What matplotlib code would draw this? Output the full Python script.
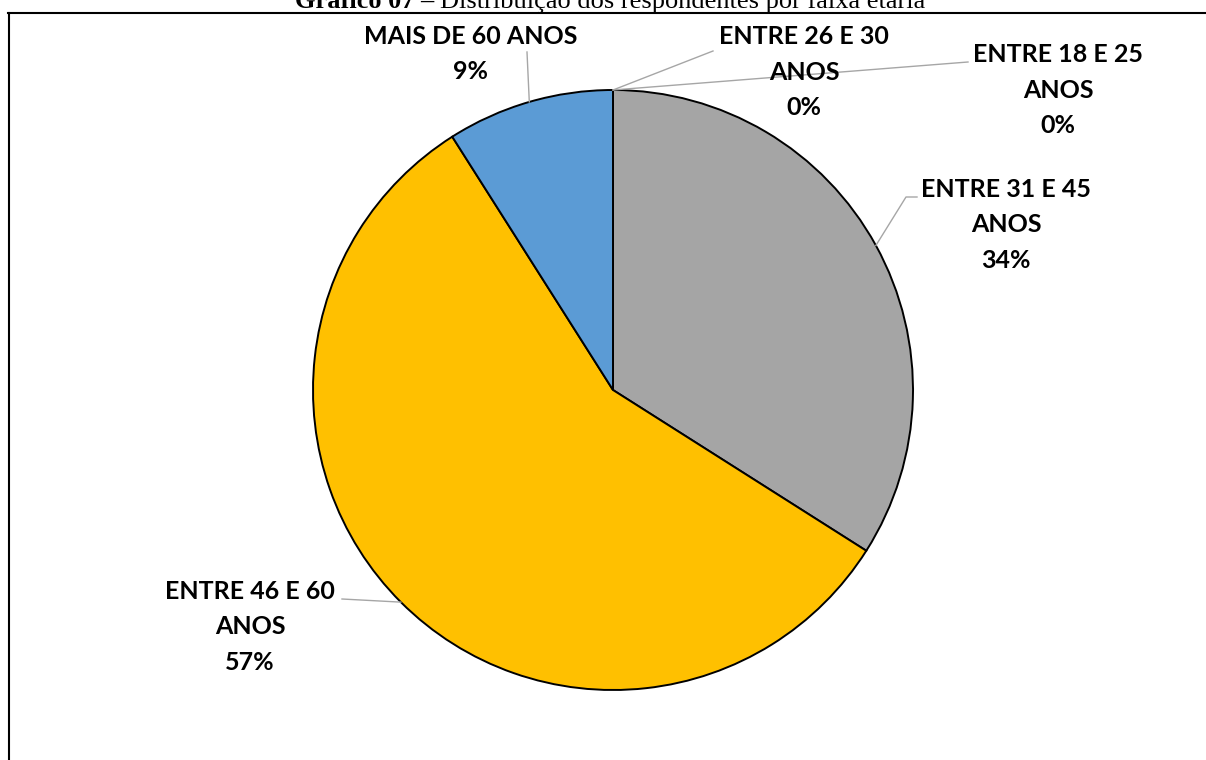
import matplotlib.pyplot as plt
from matplotlib.lines import Line2D
import numpy as np

# data
faixas = ['ENTRE 18 E 25\nANOS', 'ENTRE 26 E 30\nANOS', 'ENTRE 31 E 45\nANOS',
          'ENTRE 46 E 60\nANOS', 'MAIS DE 60 ANOS']
percentuais = [0, 0, 34, 57, 9]
cores = ['#4472C4', '#ED7D31', '#A5A5A5', '#FFC000', '#5B9BD5']

# label layout in pixels (x, y from top) and where the leader line meets the text
label_pos = [(1058, 90), (804, 72), (1006, 225), (250, 627), (471, 54)]
leader_end = [[(968, 62)], [(713, 51)], [(906, 197), (917, 197)],
              [(342, 599)], [(527, 52)]]

W, H = 1206, 760
fig = plt.figure(figsize=(W / 100, H / 100), dpi=100)
ax = fig.add_axes([0, 0, 1, 1])

cx, cy, r = 613, H - 390, 300
wedges, _ = ax.pie(percentuais, colors=cores, startangle=90, counterclock=False,
                   center=(cx, cy), radius=r, frame=True,
                   wedgeprops=dict(edgecolor='black', linewidth=1.4))
ax.set_xlim(0, W)
ax.set_ylim(0, H)
ax.axis('off')

font = dict(family='Lato', weight='bold', fontsize=18, color='black')
for w, nome, p, (lx, ly), ends in zip(wedges, faixas, percentuais, label_pos, leader_end):
    ang = np.deg2rad((w.theta1 + w.theta2) / 2)
    x0 = cx + r * np.cos(ang)
    y0 = cy + r * np.sin(ang)
    xs = [x0] + [e[0] for e in ends]
    ys = [y0] + [H - e[1] for e in ends]
    ax.plot(xs, ys, color='#A6A6A6', lw=1.0, zorder=1)
    ax.text(lx, H - ly, f'{nome}\n{p}%', ha='center', va='center',
            linespacing=1.65, zorder=3, **font)

# frame of the chart area
fig.add_artist(Line2D([8.5 / W, 8.5 / W], [0, 1 - 13 / H], color='black', lw=1.5))
fig.add_artist(Line2D([8 / W, 1], [1 - 13 / H, 1 - 13 / H], color='black', lw=1.5))

# title (cut at the top in the original)
renderer = fig.canvas.get_renderer()
t1 = fig.text(295 / W, 1 - 8 / H, 'Gráfico 07 –', ha='left', va='baseline',
              fontsize=19, weight='bold', family='Liberation Serif')
bb = t1.get_window_extent(renderer)
fig.text((bb.x1 + 6) / W, 1 - 8 / H, 'Distribuição dos respondentes por faixa etária',
         ha='left', va='baseline', fontsize=19, family='Liberation Serif')

fig.savefig('out.png', dpi=100)
